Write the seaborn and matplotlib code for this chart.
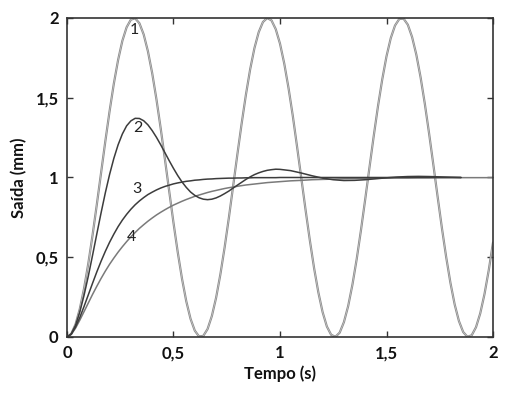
import matplotlib
matplotlib.use("Agg")
import matplotlib.pyplot as plt
import seaborn as sns
import pandas as pd

# curva 1 (sem amortecimento), passo de 0,02 s
t_1 = [round(i * 0.02, 2) for i in range(101)]
y_1 = [0.000, 0.020, 0.079, 0.175, 0.303, 0.460, 0.638, 0.830, 1.029, 1.227,
       1.416, 1.589, 1.737, 1.857, 1.942, 1.990, 1.998, 1.967, 1.897, 1.791,
       1.654, 1.490, 1.307, 1.112, 0.913, 0.716, 0.531, 0.365, 0.224, 0.114,
       0.040, 0.003, 0.007, 0.050, 0.131, 0.246, 0.392, 0.561, 0.748, 0.946,
       1.146, 1.339, 1.519, 1.679, 1.811, 1.911, 1.975, 2.000, 1.985, 1.930,
       1.839, 1.714, 1.561, 1.387, 1.194, 0.996, 0.797, 0.607, 0.432, 0.280,
       0.156, 0.066, 0.014, 0.001, 0.027, 0.093, 0.194, 0.328, 0.488, 0.669,
       0.863, 1.063, 1.260, 1.447, 1.615, 1.760, 1.874, 1.953, 1.994, 1.996,
       1.958, 1.881, 1.770, 1.628, 1.461, 1.275, 1.079, 0.879, 0.684, 0.502,
       0.340, 0.204, 0.100, 0.031, 0.001, 0.011, 0.061, 0.148, 0.269, 0.419,
       0.592]

# curvas 2, 3 e 4: 0,02 s ate 1 s, depois 0,05 s
t_resp = [round(i * 0.02, 2) for i in range(51)] + [round(1 + i * 0.05, 2) for i in range(1, 21)]
y_2 = [0.000, 0.019, 0.073, 0.156, 0.261, 0.381, 0.512, 0.646, 0.778, 0.904,
       1.019, 1.120, 1.205, 1.273, 1.324, 1.355, 1.371, 1.370, 1.356, 1.330,
       1.294, 1.252, 1.205, 1.155, 1.105, 1.057, 1.012, 0.972, 0.938, 0.909,
       0.888, 0.873, 0.864, 0.861, 0.864, 0.872, 0.884, 0.899, 0.915, 0.934,
       0.952, 0.970, 0.988, 1.004, 1.018, 1.029, 1.038, 1.045, 1.049, 1.052,
       1.051, 1.043, 1.028, 1.011, 0.996, 0.986, 0.981, 0.982, 0.986, 0.992,
       0.998, 1.003, 1.006, 1.007, 1.006, 1.004, 1.002, 1.000, 0.998, 0.997,
       0.997]
y_3 = [0.000, 0.018, 0.062, 0.122, 0.191, 0.264, 0.337, 0.408, 0.475, 0.537,
       0.594, 0.645, 0.692, 0.733, 0.769, 0.801, 0.829, 0.853, 0.874, 0.893,
       0.908, 0.922, 0.934, 0.944, 0.952, 0.960, 0.966, 0.971, 0.976, 0.979,
       0.983, 0.985, 0.988, 0.990, 0.991, 0.993, 0.994, 0.995, 0.996, 0.996,
       0.997, 0.997, 0.998, 0.998, 0.999, 0.999, 0.999, 0.999, 0.999, 0.999,
       1.000, 1.000, 1.000, 1.000, 1.000, 1.000, 1.000, 1.000, 1.000, 1.000,
       1.000, 1.000, 1.000, 1.000, 1.000, 1.000, 1.000, 1.000, 1.000, 1.000,
       1.000]
y_4 = [0.000, 0.016, 0.055, 0.105, 0.159, 0.213, 0.267, 0.318, 0.367, 0.413,
       0.456, 0.495, 0.532, 0.566, 0.598, 0.628, 0.655, 0.681, 0.704, 0.726,
       0.746, 0.765, 0.782, 0.798, 0.813, 0.827, 0.839, 0.851, 0.862, 0.872,
       0.882, 0.890, 0.898, 0.906, 0.913, 0.919, 0.925, 0.931, 0.936, 0.940,
       0.945, 0.949, 0.953, 0.956, 0.959, 0.962, 0.965, 0.968, 0.970, 0.972,
       0.974, 0.979, 0.982, 0.986, 0.988, 0.990, 0.992, 0.993, 0.994, 0.995,
       0.996, 0.997, 0.997, 0.998, 0.998, 0.999, 0.999, 0.999, 0.999, 0.999,
       0.999]

# curvas 2 e 3 terminam antes do fim do eixo
fim_curto = 68

x_ticks = [0, 0.5, 1, 1.5, 2]
x_tick_labels = ["0", "0,5", "1", "1,5", "2"]
y_ticks = [0, 0.5, 1, 1.5, 2]
y_tick_labels = ["0", "0,5", "1", "1,5", "2"]
curve_labels = ["1", "2", "3", "4"]

sns.set_style("ticks")
plt.rcParams["font.family"] = ["Lato", "DejaVu Sans"]

fig = plt.figure(figsize=(5.09, 3.99), dpi=100)
ax = fig.add_axes([0.1316, 0.1554, 0.837, 0.7995])

df1 = pd.DataFrame({"t": t_1, "y": y_1})
sns.lineplot(data=df1, x="t", y="y", ax=ax, color="#8c8c8c", linewidth=1.6)
sns.lineplot(data=df1, x="t", y="y", ax=ax, color="#d4d4d4", linewidth=0.4)
sns.lineplot(x=t_resp, y=y_4, ax=ax, color="#7a7a7a", linewidth=1.1)
sns.lineplot(x=t_resp[:fim_curto], y=y_3[:fim_curto], ax=ax, color="#3c3c3c", linewidth=1.1)
sns.lineplot(x=t_resp[:fim_curto], y=y_2[:fim_curto], ax=ax, color="#3c3c3c", linewidth=1.1)

label_pos = [(0.315, 1.925), (0.335, 1.31), (0.33, 0.925), (0.305, 0.63)]
for lab, (tx, ty) in zip(curve_labels, label_pos):
    ax.text(tx, ty, lab, fontsize=11.5, color="#222222", ha="center", va="center")

ax.set_xlim(0, 2)
ax.set_ylim(0, 2)
ax.set_xticks(x_ticks)
ax.set_xticklabels(x_tick_labels)
ax.set_yticks(y_ticks)
ax.set_yticklabels(y_tick_labels)
ax.tick_params(direction="in", length=4, width=1, colors="#333333", top=True, right=True,
               labelsize=12, pad=6)
for lab in ax.get_xticklabels() + ax.get_yticklabels():
    lab.set_fontweight("bold")
    lab.set_color("#111111")
for sp in ax.spines.values():
    sp.set_visible(True)
    sp.set_color("#333333")
    sp.set_linewidth(1.2)

ax.set_xlabel("Tempo (s)", fontsize=12, fontweight="bold", color="#111111", labelpad=3)
ax.set_ylabel("Saída (mm)", fontsize=12, fontweight="bold", color="#111111", labelpad=6)

fig.savefig("out.png", dpi=100)
